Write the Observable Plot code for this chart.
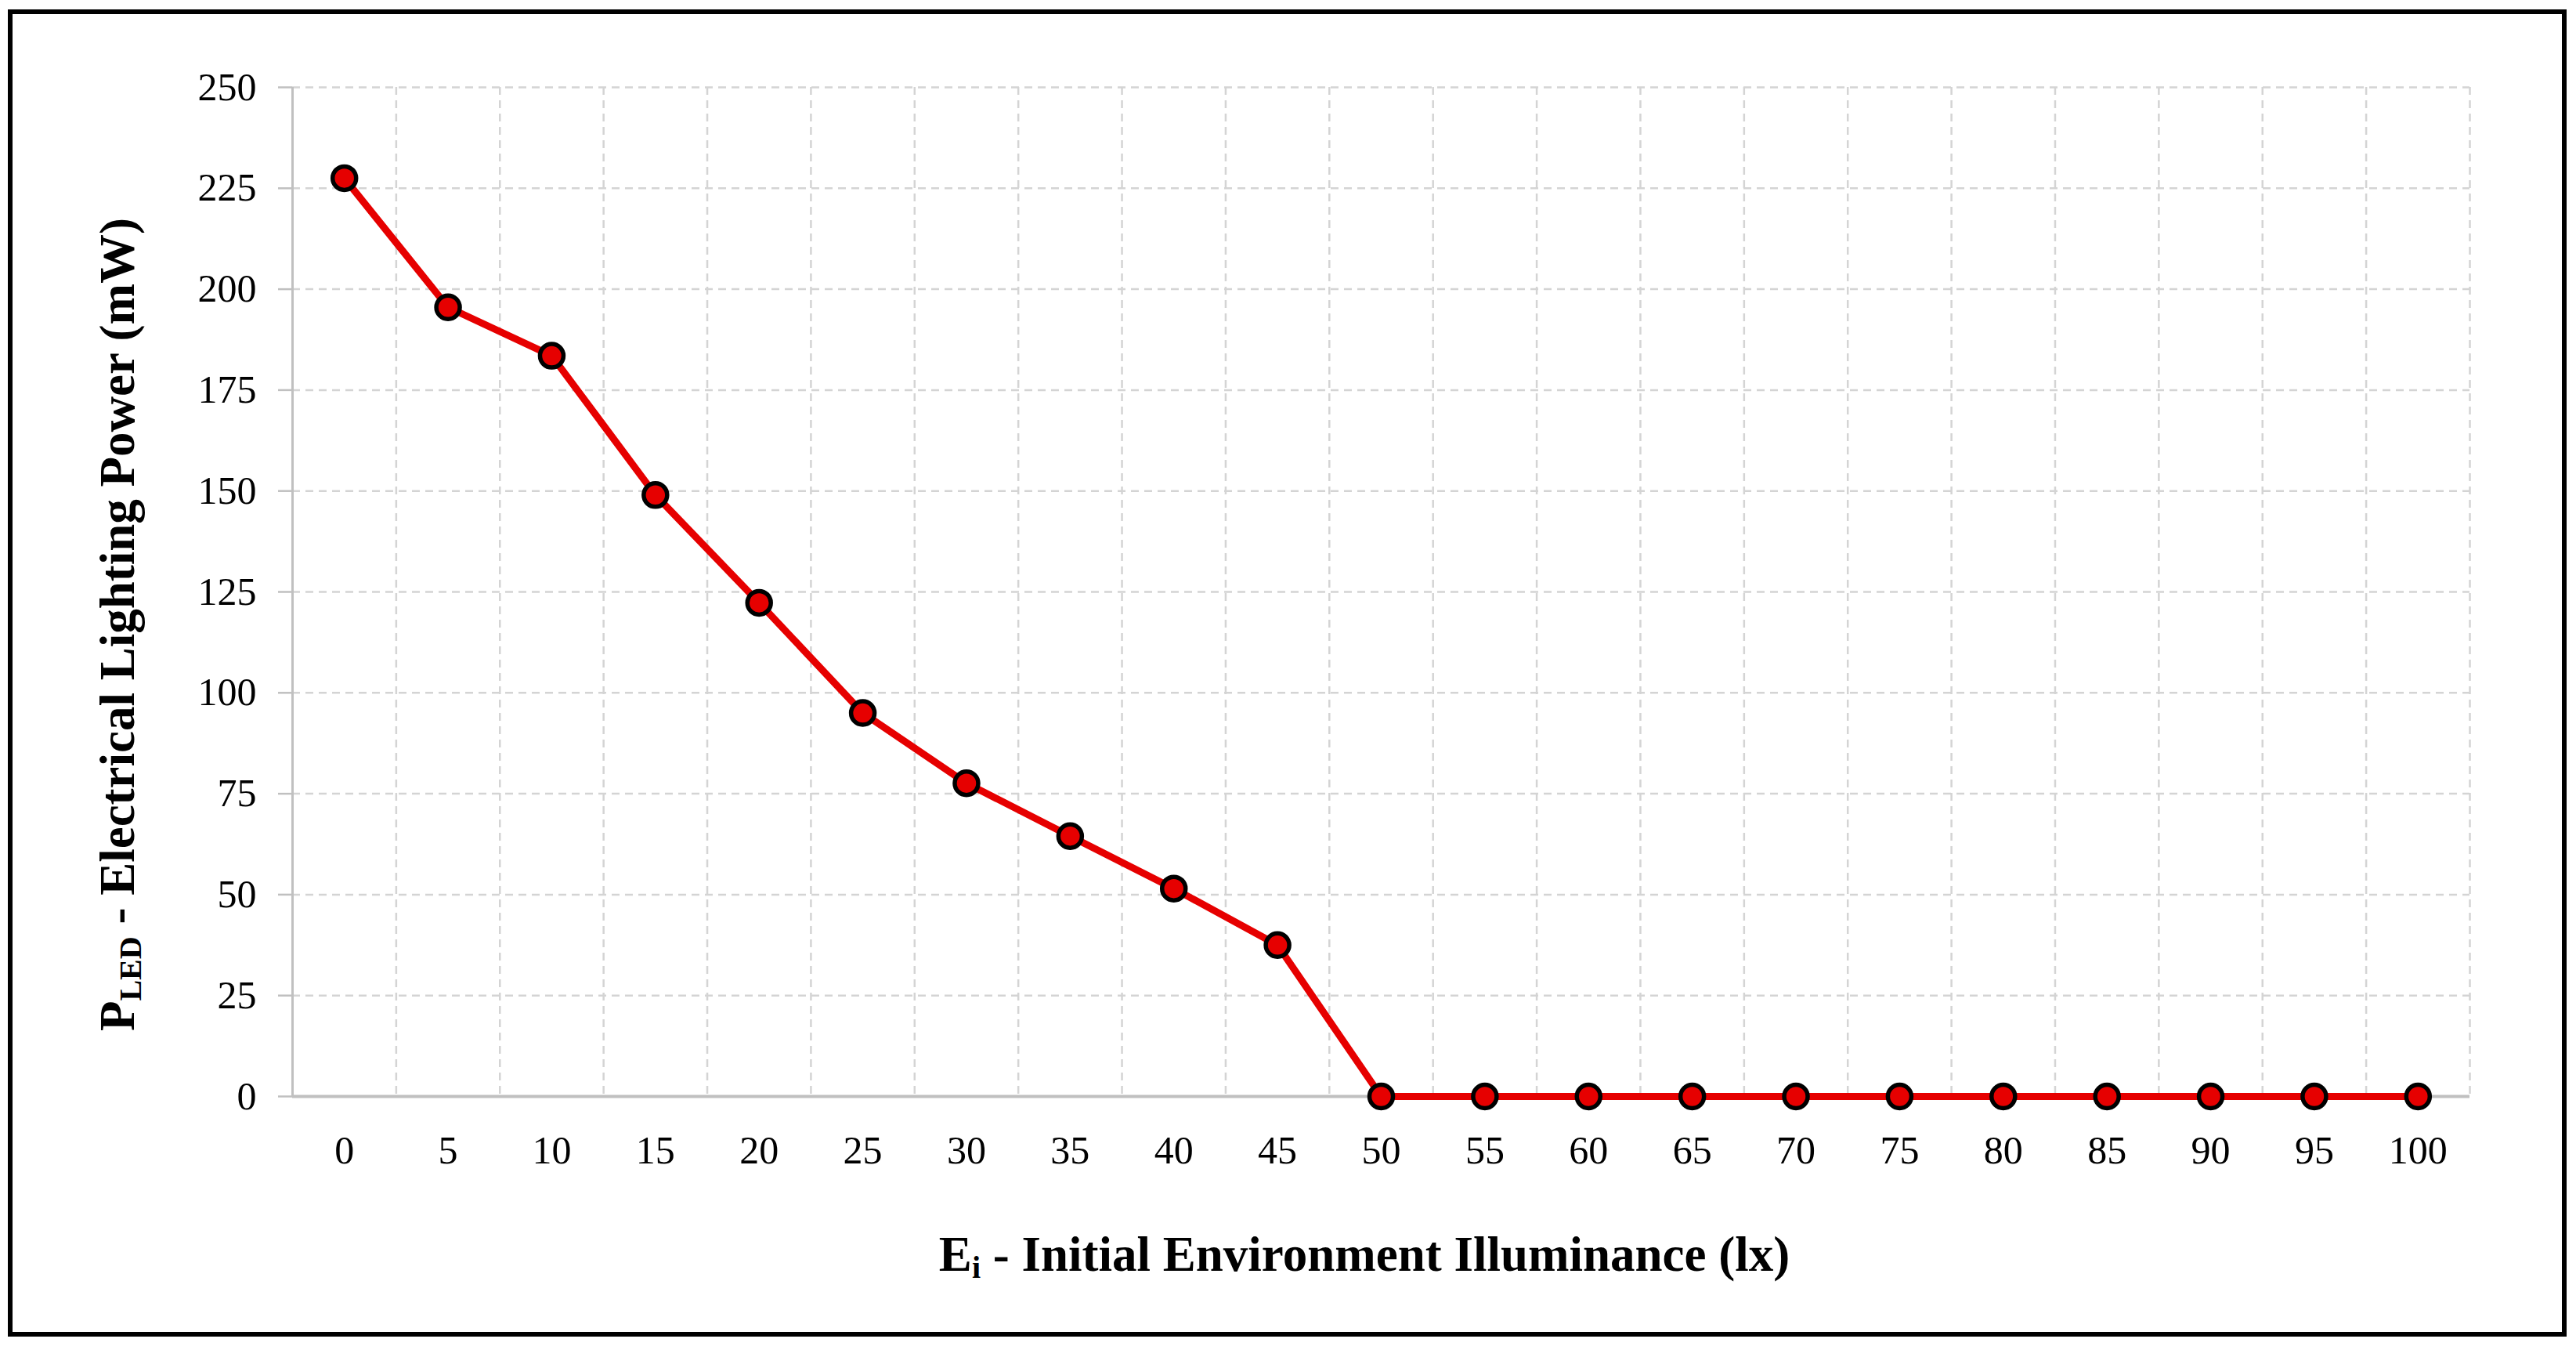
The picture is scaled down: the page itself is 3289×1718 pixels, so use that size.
<!DOCTYPE html>
<html>
<head>
<meta charset="utf-8">
<script src="https://cdn.jsdelivr.net/npm/d3@7"></script>
<script src="https://cdn.jsdelivr.net/npm/@observablehq/plot@0.6"></script>
<style>
  html, body { margin: 0; padding: 0; background: #fff; }
  #page { position: relative; width: 3289px; height: 1718px; overflow: hidden; background: #fff; }
  #frame { position: absolute; left: 10px; top: 12px; width: 3267px; height: 1694px; border: 6px solid #000; box-sizing: border-box; pointer-events: none; }
  #chart { position: absolute; left: 0; top: 0; }
</style>
</head>
<body>
<div id="page">
  <div id="chart"></div>
  <div id="frame"></div>
</div>
<script>
// Categories: initial environment illuminance (lx)
const illuminance = [0, 5, 10, 15, 20, 25, 30, 35, 40, 45, 50, 55, 60, 65, 70, 75, 80, 85, 90, 95, 100];
// Series: electrical lighting power (mW)
const power = [227.5, 195.5, 183.5, 149, 122.3, 95, 77.6, 64.5, 51.5, 37.5, 0, 0, 0, 0, 0, 0, 0, 0, 0, 0, 0];
// Tick labels
const yTicks = [0, 25, 50, 75, 100, 125, 150, 175, 200, 225, 250];
const xTicks = illuminance;
// Axis titles (main text + subscript + rest)
const xTitle = ["E", "i", " - Initial Environment Illuminance (lx)"];
const yTitle = ["P", "LED", " - Electrical Lighting Power (mW)"];

const table = illuminance.map((e, i) => ({E: e, P: power[i]}));
// category boundaries (Excel-style gridlines between categories)
const step = illuminance[1] - illuminance[0];
const xBounds = [illuminance[0] - step / 2, ...illuminance.map(e => e + step / 2)];

const serif = "Liberation Serif, Times New Roman, serif";
const red = "#e60000";
const gridColor = "#d4d4d4";
const axisColor = "#c0c0c0";

const chart = Plot.plot({
  width: 3289,
  height: 1718,
  marginLeft: 373,
  marginRight: 136,
  marginTop: 111,
  marginBottom: 319,
  style: {fontFamily: serif, fontSize: "48px", background: "transparent", color: "#000"},
  x: {type: "linear", domain: [xBounds[0], xBounds[xBounds.length - 1]], axis: null, label: null},
  y: {type: "linear", domain: [0, 250], axis: null, label: null},
  marks: [
    Plot.ruleY(yTicks.filter(d => d > 0), {stroke: gridColor, strokeWidth: 2.5, strokeDasharray: "10,7"}),
    Plot.ruleX(xBounds.slice(1), {stroke: gridColor, strokeWidth: 2.5, strokeDasharray: "10,7"}),
    Plot.axisY({ticks: yTicks, label: null, tickSize: 18, tickPadding: 28, stroke: axisColor, strokeWidth: 2.5, fill: "#000", fontSize: 50, fontFamily: serif, tickFormat: d => String(d)}),
    Plot.axisX({ticks: xTicks, label: null, tickSize: 0, tickPadding: 50, fill: "#000", fontSize: 50, fontFamily: serif, tickFormat: d => String(d)}),
    Plot.ruleX([xBounds[0]], {stroke: axisColor, strokeWidth: 3}),
    Plot.ruleY([0], {stroke: axisColor, strokeWidth: 4}),
    Plot.line(table, {x: "E", y: "P", stroke: red, strokeWidth: 9}),
    Plot.dot(table, {x: "E", y: "P", r: 15, fill: red, stroke: "#000", strokeWidth: 5.5})
  ]
});
document.getElementById("chart").appendChild(chart);

function addTitle(svg, parts, x, y, rotate) {
  const text = d3.select(svg).append("text")
    .attr("transform", `translate(${x},${y})` + (rotate ? " rotate(-90)" : ""))
    .attr("text-anchor", "middle")
    .attr("dominant-baseline", "middle")
    .attr("font-family", serif)
    .attr("font-weight", "bold")
    .attr("font-size", 63)
    .attr("fill", "#000");
  text.append("tspan").text(parts[0]);
  text.append("tspan").attr("font-size", 40).attr("dy", 14).text(parts[1]);
  text.append("tspan").attr("dy", -14).text(parts[2]);
}
addTitle(chart, xTitle, 1742, 1608, false);
addTitle(chart, yTitle, 157, 797, true);
</script>
</body>
</html>
